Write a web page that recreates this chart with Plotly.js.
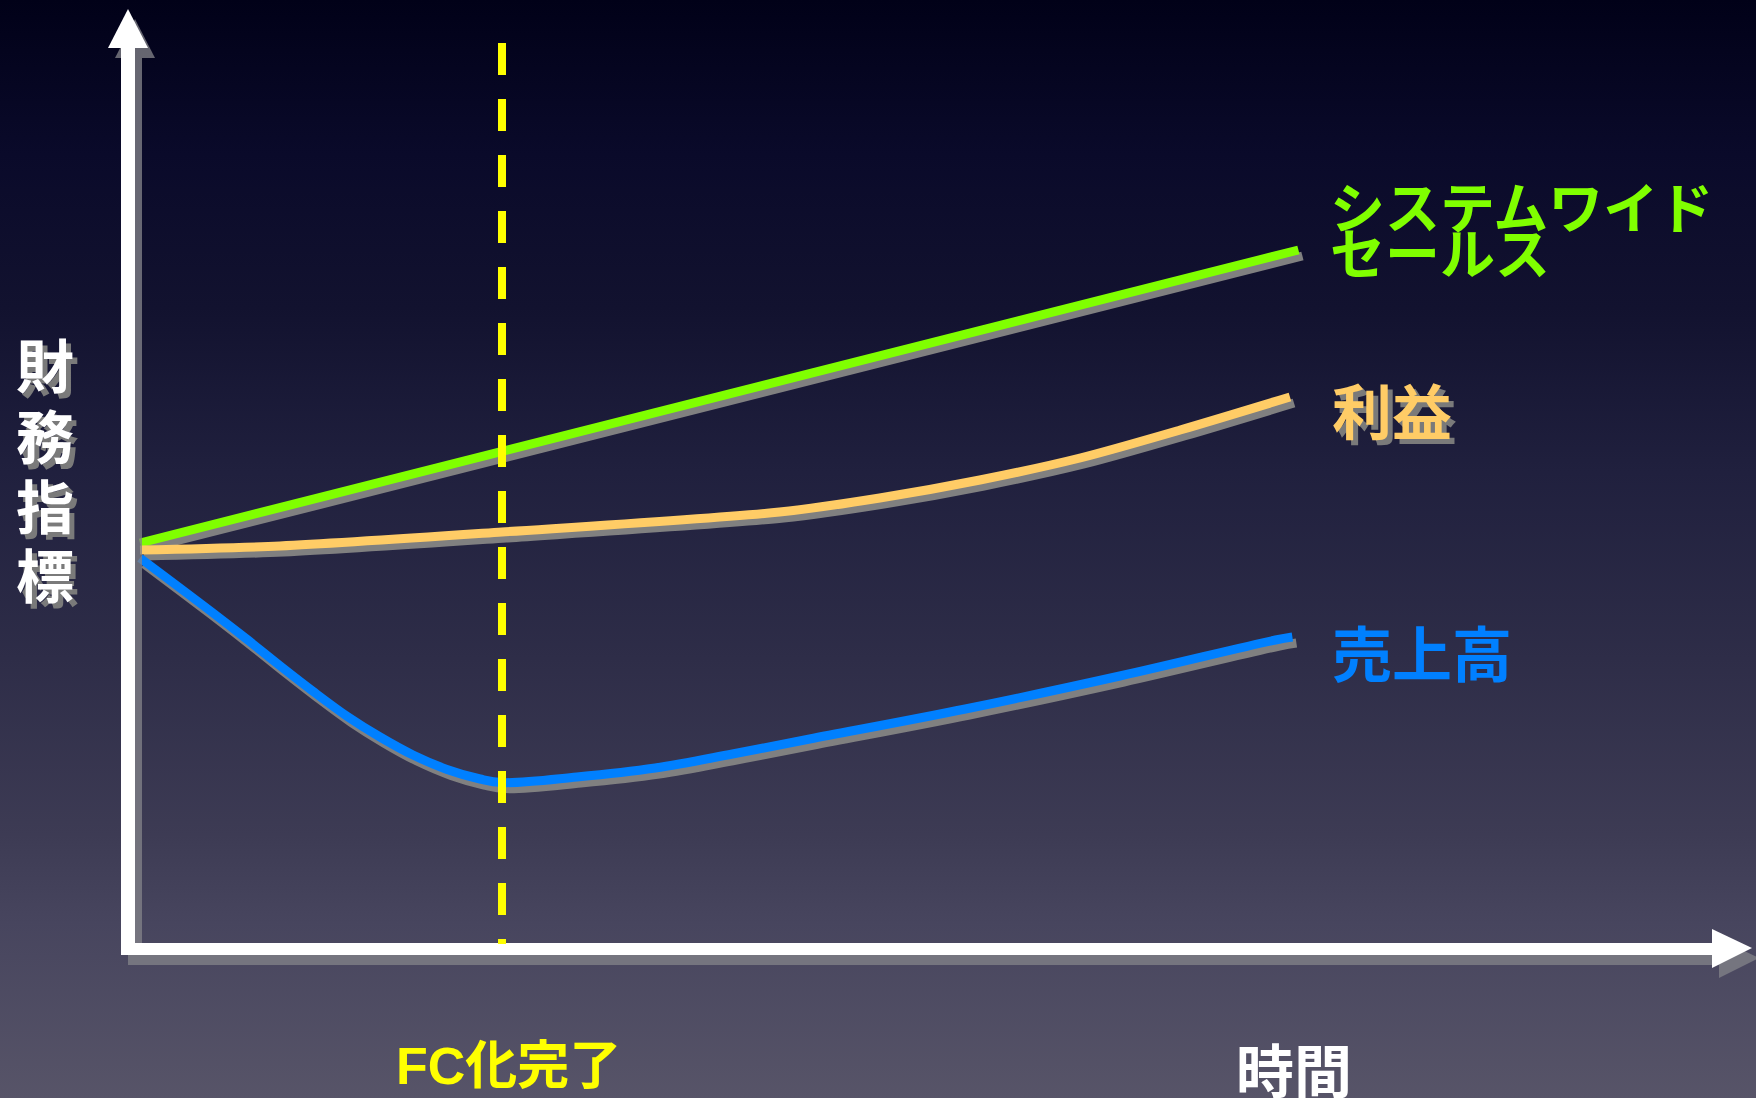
<!DOCTYPE html>
<html>
<head>
<meta charset="utf-8">
<script src="https://cdn.plot.ly/plotly-3.0.1.min.js"></script>
<style>
  html, body { margin: 0; padding: 0; background: #1a1a36; }
  #chart { width: 1756px; height: 1098px; }
</style>
</head>
<body>
<div id="chart"></div>
<script>
// ---------------- DATA ----------------
// time (arbitrary units, FC conversion finished at t = 3)
const fcTime = 3;
const fcLabel = 'FC化完了';
const xAxisLabel = '時間';
const yAxisLabelChars = ['財', '務', '指', '標'];

const systemName = ['システムワイド', 'セールス'];
const systemTime = [0, 3.0, 9.6];
const systemValue = [101.0, 123.75, 174.25];

const profitName = '利益';
const profitTime = [0, 1.16, 3.0, 5.30, 6.13, 6.96, 7.79, 8.62, 9.53];
const profitValue = [99.25, 100.25, 103.75, 108.75, 112.25, 116.75, 122.25, 129.25, 137.5];

const salesName = '売上高';
const salesTime = [0, 0.605, 0.887, 1.16, 1.434, 1.715, 1.989, 2.262, 2.544, 2.818, 3.0,
                   3.62, 4.27, 4.91, 5.55, 6.84, 8.12, 9.41, 9.55];
const salesValue = [97.25, 83.5, 76.9, 70.3, 63.9, 57.7, 52.5, 48.0, 44.4, 42.0, 41.1,
                    42.5, 44.75, 48.25, 52.0, 59.5, 67.75, 76.75, 77.5];

// ---------------- LAYOUT HELPERS ----------------
const W = 1756, H = 1098;
const px = x => x / W;          // pixel x -> paper
const py = y => 1 - y / H;      // pixel y -> paper
const T_PER_PX = 1 / 120.67, T0_PX = 140;
const V_PER_PX = 1 / 4, V100_PY = 547;
const xRange = [(0 - T0_PX) * T_PER_PX, (W - T0_PX) * T_PER_PX];
const yRange = [100 - (H - V100_PY) * V_PER_PX, 100 + V100_PY * V_PER_PX];

// drop shadow offset for series lines (in data units)
const shDx = 4 * T_PER_PX, shDy = -6 * V_PER_PX;

const GREEN = '#80ff00', ORANGE = '#ffcc66', BLUE = '#0080ff', YELLOW = '#ffff00';
const LINE_SHADOW = '#808080';
const LW = 9;

function shadowTrace(xs, ys, shape, sm) {
  return {
    x: xs.map(v => v + shDx), y: ys.map(v => v + shDy),
    type: 'scatter', mode: 'lines', hoverinfo: 'skip',
    line: { color: LINE_SHADOW, width: LW, shape: shape, smoothing: sm }
  };
}
function mainTrace(xs, ys, color, shape, sm, name) {
  return {
    x: xs, y: ys, name: name,
    type: 'scatter', mode: 'lines', hoverinfo: 'skip',
    line: { color: color, width: LW, shape: shape, smoothing: sm }
  };
}

const traces = [
  shadowTrace(systemTime, systemValue, 'linear', 0),
  mainTrace(systemTime, systemValue, GREEN, 'linear', 0, systemName.join('')),
  shadowTrace(profitTime, profitValue, 'spline', 0.8),
  mainTrace(profitTime, profitValue, ORANGE, 'spline', 0.8, profitName),
  shadowTrace(salesTime, salesValue, 'spline', 1),
  mainTrace(salesTime, salesValue, BLUE, 'spline', 1, salesName)
];

// ---------------- BACKGROUND GRADIENT ----------------
const svgBg =
  '<svg xmlns="http://www.w3.org/2000/svg" width="1756" height="1098" preserveAspectRatio="none">' +
  '<defs><linearGradient id="g" x1="0" y1="0" x2="0" y2="1">' +
  '<stop offset="0" stop-color="#010118"/>' +
  '<stop offset="0.14" stop-color="#0a0a2a"/>' +
  '<stop offset="0.28" stop-color="#12122f"/>' +
  '<stop offset="0.43" stop-color="#20203e"/>' +
  '<stop offset="0.60" stop-color="#2e2d48"/>' +
  '<stop offset="0.76" stop-color="#3d3b54"/>' +
  '<stop offset="0.84" stop-color="#47455e"/>' +
  '<stop offset="1" stop-color="#575468"/>' +
  '</linearGradient></defs>' +
  '<rect x="0" y="0" width="1756" height="1098" fill="url(#g)"/></svg>';
const bgSource = 'data:image/svg+xml;charset=utf-8,' + encodeURIComponent(svgBg);

// ---------------- AXIS ARROWS (shapes) ----------------
const AX_SHADOW = 'rgba(130,130,136,0.78)';
const sdx = 7, sdy = 10;
function rect(x0, y0, x1, y1, color) {
  return { type: 'rect', xref: 'paper', yref: 'paper', layer: 'above',
    x0: px(x0), x1: px(x1), y0: py(y0), y1: py(y1),
    line: { width: 0 }, fillcolor: color };
}
function tri(pts, color) {
  const d = 'M ' + pts.map(p => px(p[0]) + ' ' + py(p[1])).join(' L ') + ' Z';
  return { type: 'path', xref: 'paper', yref: 'paper', layer: 'above',
    path: d, line: { width: 0 }, fillcolor: color };
}
const shapes = [
  // shadows
  rect(121 + sdx, 48 + sdy, 135 + sdx, 955 + sdy, AX_SHADOW),
  tri([[108 + sdx, 48 + sdy], [148 + sdx, 48 + sdy], [128 + sdx, 9 + sdy]], AX_SHADOW),
  rect(135 + sdx, 943 + sdy, 1712 + sdx, 955 + sdy, AX_SHADOW),
  tri([[1712 + sdx, 929 + sdy], [1712 + sdx, 968 + sdy], [1752 + sdx, 948 + sdy]], AX_SHADOW),
  // white axes
  rect(121, 48, 135, 955, '#ffffff'),
  tri([[108, 48], [148, 48], [128, 9]], '#ffffff'),
  rect(121, 943, 1712, 955, '#ffffff'),
  tri([[1712, 929], [1712, 968], [1752, 948]], '#ffffff'),
  // FC completion dashed line
  { type: 'line', xref: 'x', yref: 'paper', layer: 'above',
    x0: fcTime, x1: fcTime, y0: py(43), y1: py(944),
    line: { color: YELLOW, width: 8, dash: '32px,24px' } }
];

// ---------------- TEXT ----------------
const FONT = '"Noto Sans CJK JP", "Liberation Sans", sans-serif';
const FONT_L = '"Liberation Sans", "Noto Sans CJK JP", sans-serif';
function label(text, x, y, size, color, weight, shadow, family) {
  return { text: text, xref: 'paper', yref: 'paper', x: px(x), y: py(y),
    xanchor: 'left', yanchor: 'middle', showarrow: false,
    font: { family: family || FONT, size: size, color: color, weight: weight,
            shadow: shadow || 'none' } };
}
const TXT_SHADOW = '5px 5px 0px #7a7a7a';
const annotations = [
  label(systemName[0], 1328, 204, 55, GREEN, 700),
  label(systemName[1], 1328, 250, 55, GREEN, 700),
  label(profitName, 1330, 409, 60, ORANGE, 700, TXT_SHADOW),
  label(salesName, 1330, 650, 60, BLUE, 700),
  label(fcLabel, 394, 1066, 52, YELLOW, 700, null, FONT_L),
  label(xAxisLabel, 1234, 1068, 58, '#ffffff', 700)
];
const yCharCenters = [363, 434, 504, 573];
yAxisLabelChars.forEach((c, i) => {
  annotations.push(label(c, 14, yCharCenters[i], 58, '#ffffff', 700, TXT_SHADOW));
});

const layout = {
  width: W, height: H,
  margin: { l: 0, r: 0, t: 0, b: 0, pad: 0 },
  paper_bgcolor: '#1a1a36',
  plot_bgcolor: 'rgba(0,0,0,0)',
  showlegend: false,
  xaxis: { range: xRange, showgrid: false, zeroline: false, showticklabels: false,
           ticks: '', showline: false, fixedrange: true },
  yaxis: { range: yRange, showgrid: false, zeroline: false, showticklabels: false,
           ticks: '', showline: false, fixedrange: true },
  images: [{ source: bgSource, xref: 'paper', yref: 'paper', x: 0, y: 1,
             sizex: 1, sizey: 1, sizing: 'stretch', xanchor: 'left', yanchor: 'top',
             layer: 'below' }],
  shapes: shapes,
  annotations: annotations
};

Plotly.newPlot('chart', traces, layout, { staticPlot: true, displayModeBar: false });
</script>
</body>
</html>
